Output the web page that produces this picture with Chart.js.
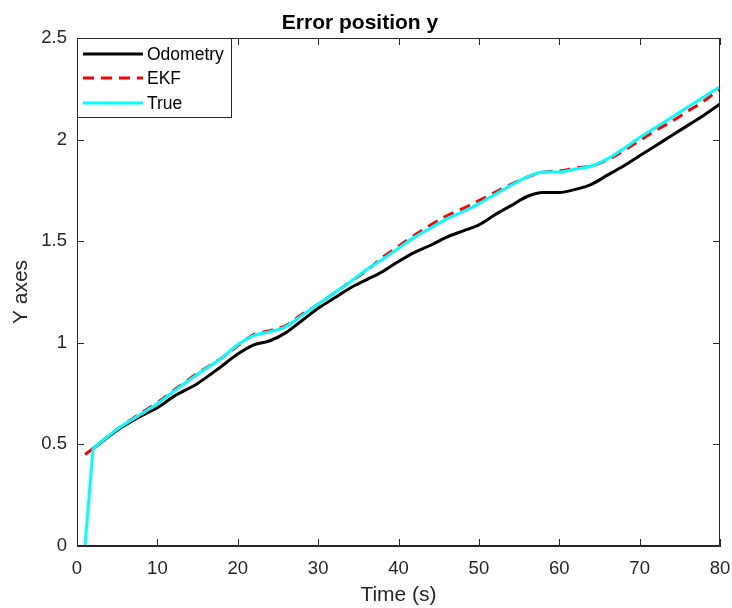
<!DOCTYPE html>
<html><head><meta charset="utf-8">
<script src="https://cdn.jsdelivr.net/npm/chart.js@4/dist/chart.umd.min.js"></script>
<style>html,body{margin:0;padding:0;background:#fff}#wrap{width:732px;height:608px}</style>
</head><body><div id="wrap"><canvas id="c" width="732" height="608"></canvas></div>
<script>
const time = [1,2,5,8,10,12,15,18,20,22,24,26,28,30,32,34,36,38,40,42,44,46,48,50,52,54,56,58,60,62,64,66,68,70,72,74,76,78,80];
const odometry = [null,0.48,0.57,0.64,0.68,0.735,0.80,0.885,0.945,0.99,1.01,1.05,1.11,1.17,1.22,1.27,1.31,1.35,1.40,1.445,1.48,1.52,1.55,1.58,1.63,1.675,1.72,1.74,1.74,1.755,1.78,1.825,1.87,1.92,1.97,2.02,2.07,2.12,2.175];
const ekf = [0.45,0.48,0.575,0.655,0.705,0.765,0.85,0.925,0.985,1.04,1.06,1.085,1.14,1.19,1.245,1.30,1.355,1.42,1.475,1.53,1.58,1.625,1.66,1.70,1.74,1.78,1.815,1.84,1.845,1.86,1.87,1.90,1.945,1.995,2.045,2.09,2.14,2.19,2.25];
const truth = [0,0.48,0.575,0.65,0.70,0.76,0.845,0.925,0.99,1.035,1.055,1.08,1.135,1.19,1.245,1.30,1.36,1.41,1.465,1.52,1.565,1.61,1.645,1.685,1.73,1.775,1.815,1.84,1.84,1.855,1.87,1.905,1.955,2.01,2.06,2.11,2.16,2.21,2.26];
const xTicks = [0,10,20,30,40,50,60,70,80];
const yTicks = [0,0.5,1,1.5,2,2.5];
const seriesNames = ['Odometry','EKF','True'];

const pts = (arr) => time.map((t,i)=>({x:t,y:arr[i]}));
const axisColor = '#262626';
const FONT = 'Liberation Sans, Arial, Helvetica, sans-serif';
const truePts = pts(truth);

const boxPlugin = {
  id:'boxTicks',
  afterDatasetsDraw(chart){
    const {ctx, chartArea:a, scales:{x,y}} = chart;
    ctx.save();
    ctx.strokeStyle = axisColor; ctx.lineWidth = 1;
    ctx.beginPath();
    ctx.rect(a.left+0.5, a.top+0.5, a.right-a.left-1, a.bottom-a.top-1);
    ctx.stroke();
    const L = 7;
    ctx.beginPath();
    xTicks.forEach(v=>{const px=Math.round(x.getPixelForValue(v))+0.5;
      ctx.moveTo(px,a.bottom); ctx.lineTo(px,a.bottom-L);
      ctx.moveTo(px,a.top); ctx.lineTo(px,a.top+L);});
    yTicks.forEach(v=>{const py=Math.round(y.getPixelForValue(v))+0.5;
      ctx.moveTo(a.left,py); ctx.lineTo(a.left+L,py);
      ctx.moveTo(a.right,py); ctx.lineTo(a.right-L,py);});
    ctx.stroke();
    // legend
    const lx=a.left, ly=a.top, lw=155, lh=80;
    ctx.fillStyle='#fff'; ctx.fillRect(lx,ly,lw,lh);
    ctx.strokeStyle=axisColor; ctx.lineWidth=1;
    ctx.strokeRect(lx+0.5,ly+0.5,lw-1,lh-1);
    ctx.font='17.5px '+FONT; ctx.textBaseline='middle'; ctx.fillStyle='#000';
    const rows=[16,40,65];
    chart.data.datasets.slice(0,3).forEach((ds,i)=>{
      const yy=ly+rows[i];
      ctx.save();
      ctx.strokeStyle=ds.borderColor; ctx.lineWidth=ds.borderWidth;
      ctx.setLineDash(ds.borderDash||[]);
      ctx.beginPath(); ctx.moveTo(lx+6,yy); ctx.lineTo(lx+66,yy); ctx.stroke();
      ctx.restore();
      ctx.fillText(seriesNames[i], lx+70, yy+1);
    });
    ctx.restore();
  }
};

new Chart(document.getElementById('c'),{
  type:'line',
  data:{datasets:[
    {label:seriesNames[0],data:pts(odometry),borderColor:'#000000',borderWidth:3,pointRadius:0,cubicInterpolationMode:'monotone',order:3},
    {label:seriesNames[1],data:pts(ekf),borderColor:'#ff0000',borderWidth:3,borderDash:[11,7],pointRadius:0,cubicInterpolationMode:'monotone',order:2},
    {label:seriesNames[2],data:truePts.slice(1),borderColor:'#00ffff',borderWidth:3,pointRadius:0,cubicInterpolationMode:'monotone',order:0},
    {label:seriesNames[2]+' start',data:truePts.slice(0,2),borderColor:'#00ffff',borderWidth:3,pointRadius:0,tension:0,order:1}
  ]},
  plugins:[boxPlugin],
  options:{
    responsive:false, animation:false, devicePixelRatio:1,
    layout:{padding:{left:0,right:12,top:0,bottom:0}},
    plugins:{
      legend:{display:false}, tooltip:{enabled:false},
      title:{display:true,text:'Error position y',color:'#000',font:{family:FONT,size:21,weight:'bold'},padding:{top:10.4,bottom:2.4}}
    },
    scales:{
      x:{type:'linear',min:0,max:80,
        afterFit(s){s.height=62; s.paddingRight=0; s.paddingLeft=0;},
        afterBuildTicks(s){s.ticks=xTicks.map(v=>({value:v}));},
        grid:{display:false,drawTicks:false},
        border:{display:true,color:axisColor},
        ticks:{color:axisColor,font:{family:FONT,size:18.5},padding:12,maxRotation:0},
        title:{display:true,text:'Time (s)',color:axisColor,font:{family:FONT,size:21},padding:{top:0,bottom:0}}
      },
      y:{type:'linear',min:0,max:2.5,
        afterFit(s){s.width=77; s.paddingTop=0; s.paddingBottom=0;},
        afterBuildTicks(s){s.ticks=yTicks.map(v=>({value:v}));},
        grid:{display:false,drawTicks:false},
        border:{display:true,color:axisColor},
        ticks:{color:axisColor,font:{family:FONT,size:18.5},padding:10,callback:v=>String(v)},
        title:{display:true,text:'Y axes',color:axisColor,font:{family:FONT,size:21},padding:{top:8.4,bottom:0}}
      }
    }
  }
});
</script></body></html>
